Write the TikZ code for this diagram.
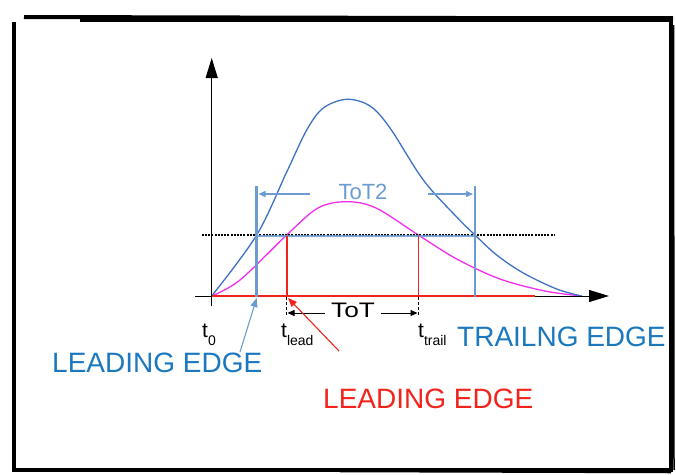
\documentclass[tikz,border=0pt]{standalone}
\usepackage{fontspec}
\setmainfont{Liberation Sans}
\usepackage{xcolor}
\usepackage{tikz}
\usetikzlibrary{arrows.meta,positioning,calc}
\definecolor{PBlue}{HTML}{3D72C2}
\definecolor{SBlue}{HTML}{6C9BD2}
\definecolor{TBlue}{HTML}{1B78BE}
\definecolor{PMag}{HTML}{F22EEB}
\definecolor{PRed}{HTML}{F2231B}
\tikzset{
  axisline/.style={line width=1pt,-{Triangle[length=20pt,width=12pt]}},
  gateline/.style={SBlue,line width=2.6pt},
  edgelabel/.style={font=\fontsize{28}{30}\selectfont,inner sep=0pt},
  tlabel/.style={font=\fontsize{21}{22}\selectfont,inner sep=0pt,anchor=base west},
  pointer/.style={line width=1.1pt,-{Triangle[length=9pt,width=7pt]}}}
\newcommand{\tlab}[1]{t\raisebox{-0.75ex}{\fontsize{14}{14}\selectfont #1}}

\begin{document}
\begin{tikzpicture}[x=1pt,y=-1pt]
  \useasboundingbox (0,0) rectangle (676,474);
  % frame
  \draw[line width=3.2pt,line join=miter] (14,22) -- (14,470) -- (671,470) -- (671,19);
  \draw[line width=4pt] (24,17) -- (673,18.5);
  \draw[line width=6pt] (80,19) -- (673,19);
  \draw[line width=1.5pt] (340,471.5) -- (671,472.5);
  \draw[line width=1.5pt] (673.5,25) -- (674,470);

  \coordinate (O) at (211.7,296);
  \coordinate (xs) at (195,296);
  \coordinate (xe) at (609,296);
  \coordinate (ys) at (211.7,306);
  \coordinate (ye) at (211.7,58);

  % pulses
  \draw[PMag,line width=1.3pt] plot[smooth,tension=0.55] coordinates {
    (211.7,296) (240,280) (286.7,235) (318,208) (346.7,201.7) (376,208)
    (418.3,235) (456.7,259) (500,279) (545,291) (581.7,296)};
  \draw[PBlue,line width=1.3pt] plot[smooth,tension=0.55] coordinates {
    (211.7,296) (256.7,235) (286.7,172) (306.7,130) (323.3,108)
    (346.7,99.3) (370,106) (390,128) (423.3,180) (456.7,217) (475,235)
    (496.7,255) (523.3,273) (556.7,289) (581.7,296)};

  % threshold
  \draw[line width=1.1pt,dash pattern=on 2pt off 1.2pt] (201.7,235) -- (555,235);
  \draw[gateline,opacity=.85] (256.7,236) -- (475,236);
  \draw[axisline] (xs) -- (xe);
  \draw[axisline] (ys) -- (ye);
  \draw[PRed,line width=1.4pt] (O) -- (535,296);

  % ToT2 gate
  \draw[gateline] (256.7,186) -- (256.7,297);
  \draw[gateline] (475,186) -- (475,297);
  \node[text=SBlue,font=\fontsize{22}{24}\selectfont,inner sep=0pt] (tot2) at (363,192) {ToT2};
  \draw[SBlue,line width=1.4pt,-{Triangle[length=7pt,width=6pt]}] (310,194) -- (258.5,194);
  \draw[SBlue,line width=1.4pt,-{Triangle[length=7pt,width=6pt]}] (428,194) -- (473,194);

  % ToT
  \draw[PRed,line width=1.6pt] (286.7,236) -- (286.7,296);
  \draw[PRed,line width=1.6pt] (418.3,236) -- (418.3,296);
  \draw[densely dashed,line width=.8pt] (286.7,297) -- (286.7,316);
  \draw[densely dashed,line width=.8pt] (418.3,297) -- (418.3,316);
  \node[font=\fontsize{21}{22}\selectfont,inner sep=0pt,xscale=1.25] (tot) at (353,310) {ToT};
  \coordinate (ll) at (287.5,313);
  \coordinate (rr) at (417.5,313);
  \draw[line width=.8pt,-{Triangle[length=7pt,width=6pt]}] (tot.west) ++(-6,3) -- (ll);
  \draw[line width=.8pt,-{Triangle[length=7pt,width=6pt]}] (tot.east) ++(6,3) -- (rr);

  \node[tlabel] (t0) at (202,337) {\tlab{0}};
  \node[tlabel] (tlead) at (281,337) {\tlab{lead}};
  \node[tlabel] (ttrail) at (418,337) {\tlab{trail}};

  % labels
  \node[edgelabel,text=TBlue,anchor=west] (trail) at (457,337) {TRAILNG EDGE};
  \node[edgelabel,text=TBlue,anchor=west] (leadb) at (52,363) {LEADING EDGE};
  \node[edgelabel,text=PRed,anchor=west] (leadr) at (323,399) {LEADING EDGE};
  \coordinate (bp) at (240,352);
  \coordinate (rp) at (339,351);
  \draw[pointer,SBlue] (bp) -- (256.7,298);
  \draw[pointer,PRed] (rp) -- (288,298);
\end{tikzpicture}
\end{document}
